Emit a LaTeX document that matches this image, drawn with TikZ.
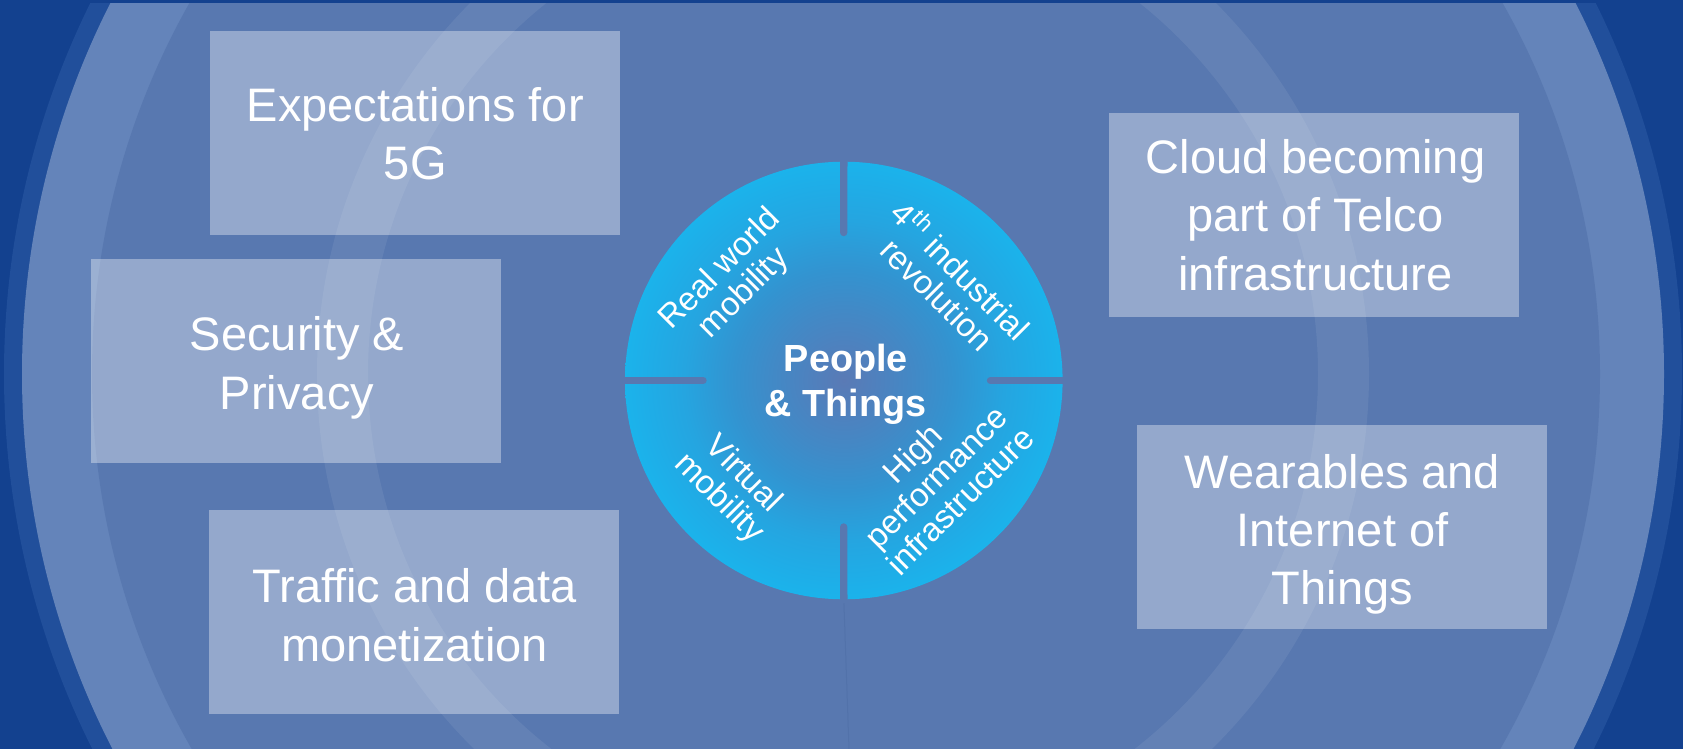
\documentclass[tikz,border=0pt]{standalone}
\usepackage{fontspec}
\setmainfont{Liberation Sans}
\definecolor{bgdark}{HTML}{13418F}
\definecolor{ringdark}{HTML}{214F9B}
\definecolor{bandlight}{HTML}{6484BA}
\definecolor{mainbg}{HTML}{5878B0}
\definecolor{footline}{HTML}{5272AA}
\definecolor{hcA}{HTML}{5A7AB5}
\definecolor{hcB}{HTML}{5080BD}
\definecolor{hcC}{HTML}{4289C6}
\definecolor{hcD}{HTML}{3393D0}
\definecolor{hcE}{HTML}{25A5E0}
\definecolor{hcF}{HTML}{1EAEE8}
\definecolor{hcG}{HTML}{1BB3EB}
\pgfdeclareradialshading{hubshade}{\pgfpoint{0bp}{0bp}}{color(0bp)=(hcA); color(3.4bp)=(hcB); color(8bp)=(hcC); color(12.6bp)=(hcD); color(18.3bp)=(hcE); color(22.8bp)=(hcF); color(25bp)=(hcG); color(50bp)=(hcG)}
\newcommand\stk[1]{\vtop{\lineskiplimit=-\maxdimen\let\\\cr\halign{\hfil##\hfil\cr#1\crcr}}}
\begin{document}
\begin{tikzpicture}[x=0.5pt,y=-0.5pt,
  box/.style={fill=white, fill opacity=0.36, draw=none, minimum width=205pt, minimum height=102pt, inner sep=0pt, anchor=north west},
  boxtext/.style={text=white, font=\fontsize{23.5pt}{29.15pt}\selectfont, inner sep=0pt, anchor=base},
  hubtext/.style={text=white, font=\bfseries\fontsize{18.9pt}{22.5pt}\selectfont, inner sep=0pt, anchor=base},
  quadtext/.style={text=white, font=\fontsize{16.5pt}{16.8pt}\selectfont, inner sep=0pt, anchor=center},
  cutbar/.style={draw=mainbg, line width=3.7pt, line cap=round}]
\useasboundingbox (0,0) rectangle (1683,749);
\fill[bgdark] (0,0) rectangle (1683,749);
\begin{scope}
  \clip (0,4) rectangle (1683,749);
  \fill[ringdark] (843,374) circle[radius=419.5pt];
  \fill[bandlight] (843,374) circle[radius=410.5pt];
  \fill[mainbg] (846,374) circle[radius=377pt];
  \fill[white, opacity=0.07, even odd rule] (843,374) circle[radius=263pt] (843,374) circle[radius=237.5pt];
\end{scope}
% boxes
\node[box] (b1) at (210,31) {};
\node[box] (b2) at (91,259) {};
\node[box] (b3) at (209,510) {};
\node[box] (b4) at (1109,113) {};
\node[box] (b5) at (1137,425) {};
\node[boxtext] (t1) at (415.3,121.7) {\stk{Expectations for\\5G}};
\node[boxtext] (t2) at (297,350.7) {\stk{Security \&\\Privacy}};
\node[boxtext] (t3) at (414.5,602.7) {\stk{Traffic and data\\monetization}};
\node[boxtext] (t4) at (1315.5,173.7) {\stk{Cloud becoming\\part of Telco\\infrastructure}};
\node[boxtext] (t5) at (1342.5,488.3) {\stk{Wearables and\\Internet of\\Things}};
% hub
\node[circle, minimum size=218.8pt, inner sep=0pt, shade, shading=hubshade] (hub) at (843.8,380.5) {};
\coordinate (tcut) at (843.7,232.5);
\coordinate (bcut) at (843.7,527);
\coordinate (lcut) at (703,380.5);
\coordinate (rcut) at (990.5,380.5);
\coordinate (foot) at (849,749);
\draw[footline, line width=0.5pt] (hub.south) -- (foot);
\draw[cutbar] (hub.north) -- (tcut);
\draw[cutbar] (hub.south) -- (bcut);
\draw[cutbar] (hub.west) -- (lcut);
\draw[cutbar] (hub.east) -- (rcut);
\node[hubtext] (core) at (845.8,371.7) {\stk{People\\\& Things}};
\node[quadtext, rotate=45] (q1) at (732.5,281.7) {\stk{Real world\\mobility}};
\node[quadtext, rotate=-45] (q2) at (950.8,280.8) {\stk{4\textsuperscript{th} industrial\\revolution}};
\node[quadtext, rotate=-45] (q3) at (731,486.7) {\stk{Virtual\\mobility}};
\node[quadtext, rotate=45] (q4) at (936.1,476.9) {\stk{High\\performance\\infrastructure}};
\end{tikzpicture}
\end{document}
